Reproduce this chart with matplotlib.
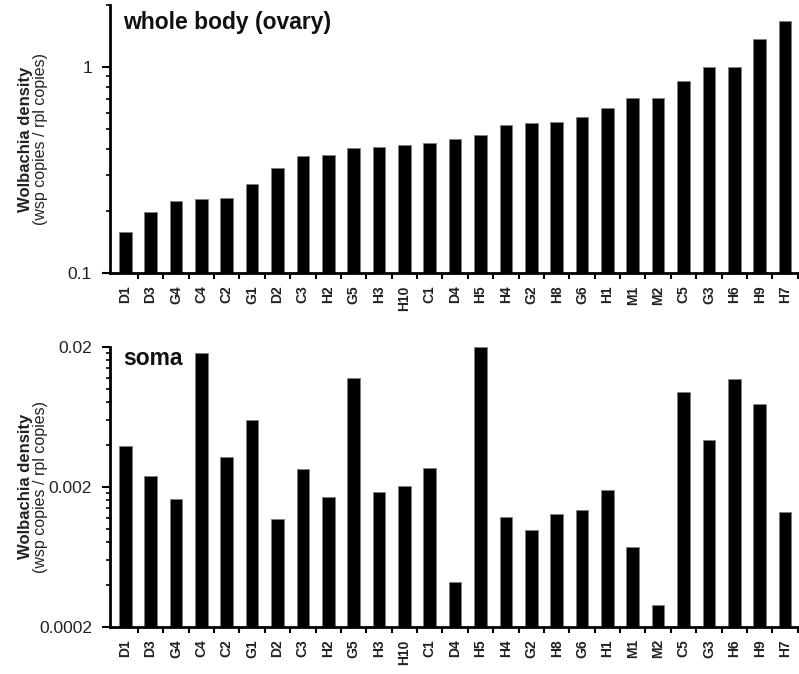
import matplotlib
matplotlib.use("Agg")
import matplotlib.pyplot as plt
from matplotlib.ticker import FixedLocator, NullFormatter
import numpy as np

plt.rcParams["font.family"] = ["Liberation Sans", "DejaVu Sans"]

# strain labels (same order in both panels)
strains = ["D1", "D3", "G4", "C4", "C2", "G1", "D2", "C3", "H2", "G5", "H3", "H10",
           "C1", "D4", "H5", "H4", "G2", "H8", "G6", "H1", "M1", "M2", "C5", "G3",
           "H6", "H9", "H7"]
# whole body (ovary) density
whole_body = [0.159, 0.197, 0.224, 0.229, 0.232, 0.271, 0.324, 0.369, 0.376, 0.406,
              0.409, 0.420, 0.426, 0.446, 0.469, 0.525, 0.533, 0.539, 0.572, 0.631,
              0.706, 0.706, 0.851, 1.0, 1.0, 1.374, 1.676]
# soma density
soma = [0.00391, 0.00238, 0.00164, 0.01795, 0.00327, 0.00599, 0.00117, 0.00267,
        0.00170, 0.0119, 0.00183, 0.00203, 0.00270, 0.000417, 0.0200, 0.00121,
        0.000977, 0.00127, 0.00136, 0.00188, 0.000738, 0.000287, 0.00955, 0.00429,
        0.0117, 0.00784, 0.00131]

fig = plt.figure(figsize=(7.99, 6.74), dpi=100)
W, H = 799, 674


def make_panel(rect, values, ylim, major, major_labels, minor, title, title_dy):
    ax = fig.add_axes(rect)
    x = np.arange(len(strains))
    ax.bar(x, values, width=0.5, color="black", edgecolor="#808080", linewidth=0.6)
    ax.set_yscale("log")
    ax.set_ylim(*ylim)
    ax.set_xlim(-0.6, len(strains) - 0.45)
    ax.yaxis.set_major_locator(FixedLocator(major))
    ax.set_yticklabels(major_labels, fontsize=12.5, color="#222222")
    ax.yaxis.set_minor_locator(FixedLocator(minor))
    ax.yaxis.set_minor_formatter(NullFormatter())
    ax.set_xticks(x)
    ax.set_xticklabels(strains, rotation=90, fontsize=10, fontweight="bold",
                       color="#222222", family=["Liberation Sans Narrow", "Liberation Sans"])
    ax.set_xticks(x + 0.5, minor=True)
    ax.tick_params(axis="x", which="major", length=0, pad=9)
    ax.tick_params(axis="x", which="minor", length=4, width=1.5)
    ax.tick_params(axis="y", which="major", length=6, width=1.5, pad=7)
    ax.tick_params(axis="y", which="minor", length=3, width=1.2)
    for s in ["top", "right"]:
        ax.spines[s].set_visible(False)
    for s in ["left", "bottom"]:
        ax.spines[s].set_linewidth(2)
    ax.text(13 / (rect[2] * W), 1.0 - title_dy / (rect[3] * H), title,
            transform=ax.transAxes, fontsize=16.5, fontweight="bold",
            va="top", ha="left", color="#111111")
    ax.text(-85 / (rect[2] * W), 0.5, "Wolbachia density", transform=ax.transAxes,
            rotation=90, fontsize=12, fontweight="bold", va="center", ha="center",
            color="#222222")
    ax.text(-70 / (rect[2] * W), 0.5, "(wsp copies / rpl copies)",
            transform=ax.transAxes, rotation=90, fontsize=11.5,
            va="center", ha="center", color="#222222")
    return ax


top_minor = [k * 0.1 for k in range(2, 10)] + [2.0]
make_panel([110 / W, 1 - 273 / H, 689 / W, 268 / H], whole_body, (0.1, 2.0),
           [0.1, 1], ["0.1", "1"], top_minor, "whole body (ovary)", 6)

bot_minor = [k * 0.0002 for k in range(2, 10)] + [k * 0.002 for k in range(2, 10)]
make_panel([110 / W, 1 - 626.7 / H, 689 / W, 280 / H], soma, (0.0002, 0.02),
           [0.0002, 0.002, 0.02], ["0.0002", "0.002", "0.02"], bot_minor, "soma", 0)

plt.savefig("out.png", dpi=100)
